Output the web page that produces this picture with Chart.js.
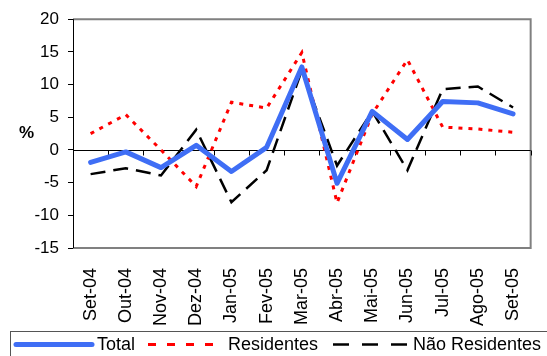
<!DOCTYPE html>
<html>
<head>
<meta charset="utf-8">
<script src="https://cdn.jsdelivr.net/npm/chart.js@4/dist/chart.umd.min.js"></script>
<style>
html,body{margin:0;padding:0;background:#fff;}
canvas{display:block;}
</style>
</head>
<body>
<canvas id="c" width="547" height="356"></canvas>
<script>
const categories = ["Set-04","Out-04","Nov-04","Dez-04","Jan-05","Fev-05","Mar-05","Abr-05","Mai-05","Jun-05","Jul-05","Ago-05","Set-05"];
const total = [-1.9,-0.3,-2.7,0.7,-3.3,0.4,12.7,-5.1,5.9,1.6,7.4,7.2,5.5];
const residentes = [2.5,5.4,0.0,-5.6,7.3,6.4,14.9,-8.1,5.5,13.8,3.5,3.2,2.7];
const naoResidentes = [-3.7,-2.8,-3.9,3.1,-8.0,-3.1,12.2,-2.4,5.9,-3.1,9.3,9.7,6.5];
const yTicks = [-15,-10,-5,0,5,10,15,20];
const seriesNames = ["Total","Residentes","Não Residentes"];

const FONT = "Arial, 'Liberation Sans', sans-serif";

const framePlugin = {
  id: 'frame',
  beforeDatasetsDraw(chart) {
    const {ctx, chartArea: a, scales: {x, y}} = chart;
    ctx.save();
    ctx.strokeStyle = '#808080';
    ctx.lineWidth = 2;
    ctx.beginPath();
    ctx.moveTo(a.left, a.top);
    ctx.lineTo(a.right, a.top);
    ctx.lineTo(a.right, a.bottom);
    ctx.lineTo(a.left, a.bottom);
    ctx.stroke();
    const y0 = Math.round(y.getPixelForValue(0)) + 0.5;
    ctx.strokeStyle = '#000';
    ctx.lineWidth = 1;
    ctx.beginPath();
    ctx.moveTo(a.left, y0);
    ctx.lineTo(a.right, y0);
    const n = categories.length;
    const step = (a.right - a.left) / n;
    for (let i = 0; i <= n; i++) {
      const xp = Math.round(x.getPixelForValue(0) - step / 2 + i * step) + 0.5;
      ctx.moveTo(xp, y0);
      ctx.lineTo(xp, y0 + 5);
    }
    ctx.stroke();
    ctx.beginPath();
    ctx.moveTo(a.left + 0.5, a.top);
    ctx.lineTo(a.left + 0.5, a.bottom);
    ctx.stroke();
    ctx.restore();
  },
  afterDraw(chart) {
    const {ctx} = chart;
    ctx.save();
    ctx.fillStyle = '#000';
    ctx.font = 'bold 17px ' + FONT;
    ctx.textAlign = 'left';
    ctx.textBaseline = 'middle';
    ctx.fillText('%', 19, 133);
    ctx.strokeStyle = '#555';
    ctx.lineWidth = 1;
    ctx.strokeRect(10.5, 331.5, 560, 40);
    const items = [
      {x1: 16, x2: 92, tx: 97, dash: []},
      {x1: 148, x2: 217, tx: 228, dash: [8, 11]},
      {x1: 333, x2: 407, tx: 413, dash: [16, 13]}
    ];
    const ly = 344.5;
    ctx.font = '18px ' + FONT;
    ctx.textBaseline = 'middle';
    chart.data.datasets.forEach((ds, i) => {
      const it = items[i];
      ctx.save();
      ctx.strokeStyle = ds.borderColor;
      ctx.lineWidth = ds.borderWidth;
      ctx.lineCap = i === 0 ? 'round' : 'butt';
      ctx.setLineDash(it.dash);
      ctx.beginPath();
      ctx.moveTo(it.x1, ly);
      ctx.lineTo(it.x2, ly);
      ctx.stroke();
      ctx.restore();
      ctx.fillStyle = '#000';
      ctx.fillText(ds.label, it.tx, ly + 1);
    });
    ctx.restore();
  }
};

new Chart(document.getElementById('c'), {
  type: 'line',
  data: {
    labels: categories,
    datasets: [
      {label: seriesNames[0], data: total, borderColor: '#3f6ef5', borderWidth: 5, pointRadius: 0, tension: 0, fill: false, borderCapStyle: 'round', borderJoinStyle: 'round'},
      {label: seriesNames[1], data: residentes, borderColor: '#ff0000', borderWidth: 3, borderDash: [4, 6], pointRadius: 0, tension: 0, fill: false},
      {label: seriesNames[2], data: naoResidentes, borderColor: '#000000', borderWidth: 2.5, borderDash: [15, 8], pointRadius: 0, tension: 0, fill: false}
    ]
  },
  options: {
    responsive: false,
    animation: false,
    layout: {padding: {left: 0, top: 19, right: 9, bottom: 0}},
    plugins: {legend: {display: false}, tooltip: {enabled: false}},
    scales: {
      x: {
        type: 'category',
        offset: true,
        grid: {display: false},
        border: {display: false},
        ticks: {
          autoSkip: false,
          maxRotation: 90,
          minRotation: 90,
          color: '#000',
          font: {family: FONT, size: 18},
          padding: 12
        },
        afterFit(s) { s.height = 108; }
      },
      y: {
        min: -15,
        max: 20,
        afterBuildTicks(s) { s.ticks = yTicks.map(v => ({value: v})); },
        grid: {drawOnChartArea: false, tickLength: 5, color: '#000'},
        border: {display: true, color: '#000'},
        ticks: {
          color: '#000',
          font: {family: FONT, size: 17},
          padding: 9
        },
        afterFit(s) { s.width = 73; }
      }
    }
  },
  plugins: [framePlugin]
});
</script>
</body>
</html>
